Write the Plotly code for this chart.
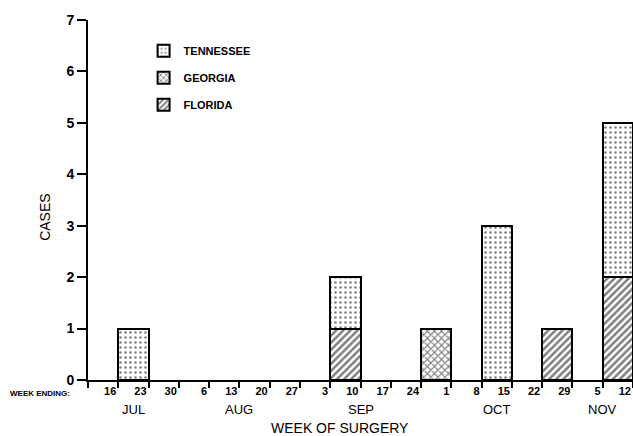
import plotly.graph_objects as go

weeks = ["16", "23", "30", "6", "13", "20", "27", "3", "10", "17", "24",
         "1", "8", "15", "22", "29", "5", "12"]
months = ["JUL"] * 3 + ["AUG"] * 4 + ["SEP"] * 4 + ["OCT"] * 5 + ["NOV"] * 2
tennessee = [0, 1, 0, 0, 0, 0, 0, 0, 1, 0, 0, 0, 0, 3, 0, 0, 0, 3]
georgia   = [0, 0, 0, 0, 0, 0, 0, 0, 0, 0, 0, 1, 0, 0, 0, 0, 0, 0]
florida   = [0, 0, 0, 0, 0, 0, 0, 0, 1, 0, 0, 0, 0, 0, 0, 1, 0, 2]

FONT = "Liberation Sans"
xs = list(range(len(weeks)))


def nz(v):
    return [None if a == 0 else a for a in v]


fig = go.Figure()
series = [
    ("FLORIDA", florida, dict(shape="/", size=5, solidity=0.5), 3),
    ("GEORGIA", georgia, dict(shape="x", size=5, solidity=0.4), 2),
    ("TENNESSEE", tennessee, dict(shape=".", size=5, solidity=0.2), 1),
]
for name, vals, pat, rank in series:
    fig.add_trace(go.Bar(
        x=xs, y=nz(vals), name=name, width=1, legendgroup=name, legendrank=rank,
        marker=dict(color="white", line=dict(color="black", width=2),
                    pattern=dict(fgcolor="black", bgcolor="white", fillmode="overlay", **pat)),
    ))

tickvals = [i - 0.5 for i in range(len(weeks) + 1)]
ticktext = [""] + weeks

fig.update_layout(
    width=633, height=436,
    margin=dict(l=88, r=0, t=20, b=56),
    plot_bgcolor="white", paper_bgcolor="white",
    barmode="stack", bargap=0,
    font=dict(family=FONT, color="black"),
    showlegend=True,
    legend=dict(x=0.102, y=0.955, xanchor="left", yanchor="top",
                traceorder="grouped",
                font=dict(size=11, family=FONT, weight="bold"), tracegroupgap=8,
                bgcolor="rgba(0,0,0,0)"),
    xaxis=dict(range=[-0.5, len(weeks) - 0.5], tickmode="array", tickvals=tickvals,
               ticktext=ticktext, ticklabelposition="outside left",
               ticks="outside", ticklen=6, tickwidth=2, tickcolor="black",
               showline=True, linewidth=2, linecolor="black", showgrid=False,
               zeroline=False, tickfont=dict(size=11, family=FONT, weight="bold")),
    yaxis=dict(range=[0, 7], dtick=1, ticks="outside", ticklen=9, tickwidth=2,
               tickcolor="black", showline=True, linewidth=2, linecolor="black",
               showgrid=False, zeroline=False,
               tickfont=dict(size=14, family=FONT, weight="bold")),
)

# month labels centred under their weeks
seen = []
for m in months:
    if m not in seen:
        seen.append(m)
for m in seen:
    idx = [i for i, mm in enumerate(months) if mm == m]
    fig.add_annotation(x=sum(idx) / len(idx), y=0, xref="x", yref="paper",
                       text=m, showarrow=False, yshift=-29, yanchor="middle",
                       xanchor="center", font=dict(size=13, family=FONT))

fig.add_annotation(x=-0.088, y=0, xref="paper", yref="paper", text="WEEK ENDING:",
                   showarrow=False, yshift=-13, yanchor="middle", xanchor="center",
                   font=dict(size=8, family=FONT, weight="bold"))
fig.add_annotation(x=0.462, y=0, xref="paper", yref="paper", text="WEEK OF SURGERY",
                   showarrow=False, yshift=-48, yanchor="middle", xanchor="center",
                   font=dict(size=14, family=FONT))
fig.add_annotation(x=-0.079, y=0.453, xref="paper", yref="paper", text="CASES",
                   showarrow=False, textangle=-90, xanchor="center", yanchor="middle",
                   font=dict(size=14, family=FONT))

fig.write_html("out.html", config={"displayModeBar": False},
               post_script="document.body.style.margin='0';")
